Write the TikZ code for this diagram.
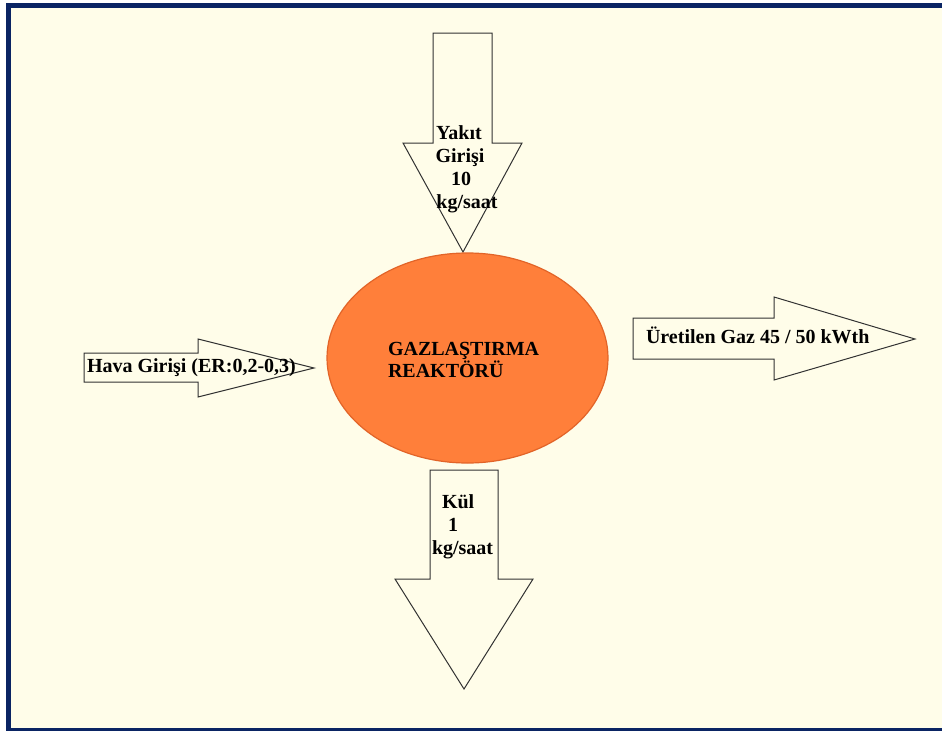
\documentclass[tikz,border=0pt]{standalone}
\usepackage{fontspec}
\setmainfont{Liberation Serif}
\usetikzlibrary{shapes.geometric}
\definecolor{cream}{RGB}{255,253,233}
\definecolor{framebl}{RGB}{10,36,99}
\definecolor{reactfill}{RGB}{255,127,58}
\definecolor{reactedge}{RGB}{226,100,40}
\definecolor{arrline}{RGB}{50,50,50}
\tikzset{
  blockarrow/.style={draw=arrline, line width=1pt, fill=cream, line join=miter},
  lbl/.style={font=\fontsize{20}{23}\selectfont\bfseries, text=black, inner sep=0pt, outer sep=0pt},
}
\begin{document}
\begin{tikzpicture}[x=1pt,y=-1pt]
\useasboundingbox (0,0) rectangle (942,731);
\fill[white] (0,0) rectangle (942,731);
\fill[cream] (8.5,5.3) rectangle (942,731);
\fill[framebl] (6,3) rectangle (942,7.6);
\fill[framebl] (6,3) rectangle (11,731);
\fill[framebl] (6,728.2) rectangle (942,731);
% top arrow (fuel input)
\draw[blockarrow] (433,33) -- (492,33) -- (492,143) -- (522,143) -- (463,252) -- (403,143) -- (433,143) -- cycle;
% left arrow (air input)
\draw[blockarrow] (84,353) -- (198,353) -- (198,339) -- (314,368) -- (198,397) -- (198,382) -- (84,382) -- cycle;
% right arrow (produced gas)
\draw[blockarrow] (633,318) -- (774,318) -- (774,297) -- (915,339) -- (774,380) -- (774,359) -- (633,359) -- cycle;
% bottom arrow (ash)
\draw[blockarrow] (430,470) -- (498,470) -- (498,579) -- (533,579) -- (464,689) -- (395,579) -- (430,579) -- cycle;
% reactor
\node[ellipse, draw=reactedge, line width=1.2pt, fill=reactfill, minimum width=281pt, minimum height=210pt, inner sep=0pt] (reactor) at (467.5,358) {};
\node[lbl, anchor=base west] (gaz) at (388,355) {GAZLAŞTIRMA};
\node[lbl, anchor=base west] (rea) at (388,377) {REAKTÖRÜ};
% labels
\node[lbl, anchor=base west] (hava) at (87,372) {Hava Girişi (ER:0,2-0,3)};
\node[lbl, anchor=base west] (uret) at (646,343) {Üretilen Gaz 45 / 50 kWth};
\node[lbl, anchor=base] (y1) at (459,139) {Yakıt};
\node[lbl, anchor=base] (y2) at (460,162) {Girişi};
\node[lbl, anchor=base] (y3) at (461,185) {10};
\node[lbl, anchor=base] (y4) at (467,208) {kg/saat};
\node[lbl, anchor=base west] (k1) at (442,508) {Kül};
\node[lbl, anchor=base west] (k2) at (448,531) {1};
\node[lbl, anchor=base west] (k3) at (432,554) {kg/saat};
\end{tikzpicture}
\end{document}
